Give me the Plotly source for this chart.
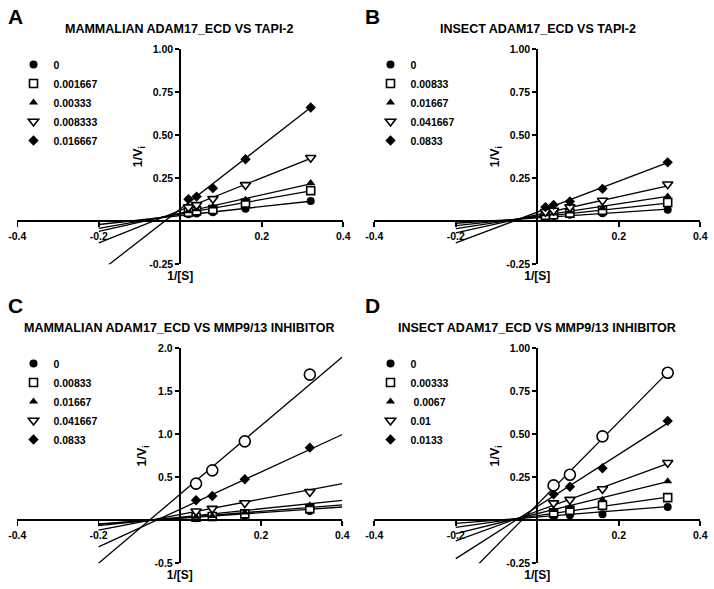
import plotly.graph_objects as go

# ---------------- DATA ----------------
# Panel A: Mammalian ADAM17_ECD vs TAPI-2
A_x = [0.02, 0.04, 0.08, 0.16, 0.32]
A_labels = ["0", "0.001667", "0.00333", "0.008333", "0.016667"]
A_y_0 = [0.040, 0.045, 0.052, 0.072, 0.118]
A_y_1 = [0.052, 0.060, 0.068, 0.105, 0.178]
A_y_2 = [0.058, 0.070, 0.085, 0.125, 0.222]
A_y_3 = [0.082, 0.095, 0.130, 0.211, 0.369]
A_y_4 = [0.128, 0.143, 0.192, 0.360, 0.660]
A_slopes = [0.26, 0.42, 0.53, 0.945, 1.84]
A_intercepts = [0.033, 0.042, 0.047, 0.063, 0.071]

# Panel B: Insect ADAM17_ECD vs TAPI-2
B_x = [0.02, 0.04, 0.08, 0.16, 0.32]
B_labels = ["0", "0.00833", "0.01667", "0.041667", "0.0833"]
B_y_0 = [0.028, 0.030, 0.037, 0.047, 0.066]
B_y_1 = [0.035, 0.038, 0.047, 0.063, 0.109]
B_y_2 = [0.040, 0.045, 0.057, 0.076, 0.143]
B_y_3 = [0.055, 0.062, 0.082, 0.120, 0.215]
B_y_4 = [0.082, 0.095, 0.115, 0.188, 0.342]
B_slopes = [0.157, 0.252, 0.36, 0.523, 0.896]
B_intercepts = [0.0197, 0.0244, 0.0296, 0.0376, 0.053]

# Panel C: Mammalian ADAM17_ECD vs MMP9/13 inhibitor (6th series unlabelled)
C_x = [0.04, 0.08, 0.16, 0.32]
C_labels = ["0", "0.00833", "0.01667", "0.041667", "0.0833", None]
C_y_0 = [0.025, 0.035, 0.060, 0.108]
C_y_1 = [0.035, 0.045, 0.075, 0.136]
C_y_2 = [0.040, 0.050, 0.090, 0.174]
C_y_3 = [0.105, 0.136, 0.201, 0.330]
C_y_4 = [0.233, 0.283, 0.477, 0.845]
C_y_5 = [0.427, 0.581, 0.918, 1.694]
C_slopes = [0.326, 0.379, 0.49, 0.9, 2.18, 4.0]
C_intercepts = [0.024, 0.028, 0.036, 0.067, 0.126, 0.3]

# Panel D: Insect ADAM17_ECD vs MMP9/13 inhibitor (6th series unlabelled)
D_x = [0.04, 0.08, 0.16, 0.32]
D_labels = ["0", "0.00333", "\u00a00.0067", "0.01", "0.0133", None]
D_y_0 = [0.020, 0.030, 0.035, 0.078]
D_y_1 = [0.043, 0.058, 0.087, 0.132]
D_y_2 = [0.060, 0.078, 0.120, 0.227]
D_y_3 = [0.100, 0.120, 0.182, 0.335]
D_y_4 = [0.151, 0.195, 0.303, 0.578]
D_y_5 = [0.203, 0.265, 0.488, 0.858]
D_slopes = [0.189, 0.338, 0.58, 0.865, 1.515, 2.4]
D_intercepts = [0.0195, 0.027, 0.039, 0.053, 0.08, 0.092]

# Fit line extents (in 1/[S])
FIT_X_START = -0.2
A_fit_end = 0.32
B_fit_end = 0.32
C_fit_end = 0.4
D_fit_end = 0.32

# Tick values / labels
X_tickvals = [-0.4, -0.2, 0.2, 0.4]
X_ticktext = ["-0.4", "-0.2", "0.2", "0.4"]
Y1_tickvals = [-0.25, 0.25, 0.5, 0.75, 1.0]
Y1_ticktext = ["-0.25", "0.25", "0.50", "0.75", "1.00"]
Y2_tickvals = [-0.5, 0.5, 1.0, 1.5, 2.0]
Y2_ticktext = ["-0.5", "0.5", "1.0", "1.5", "2.0"]
X_TITLE = "1/[S]"
Y_TITLE = "1/V<sub>i</sub>"

# ---------------- STYLE / LAYOUT ----------------
FONT = "Liberation Sans, Arial, sans-serif"
SYMBOLS = ["circle", "square", "triangle-up", "triangle-down", "diamond", "circle"]
FILLS = ["black", "white", "black", "white", "black", "white"]
SIZES = [8, 8, 8, 9, 8, 11]

W, H = 714, 589


def fx(px):   # page pixel x -> paper
    return px / W


def fy(py):   # page pixel y -> paper
    return 1 - py / H


panels = [
    dict(letter="A", title="MAMMALIAN ADAM17_ECD VS TAPI-2", x=A_x,
         ys=[A_y_0, A_y_1, A_y_2, A_y_3, A_y_4], labels=A_labels,
         slopes=A_slopes, ints=A_intercepts, fit_end=A_fit_end,
         yrange=[-0.25, 1.0], ytv=Y1_tickvals, ytt=Y1_ticktext,
         xpx=(17.3, 343.3), ypx=(49, 264.3), letter_px=(15.3, 16),
         title_px=(179, 29.3), leg_px=(13.5, 50), ystand=3),
    dict(letter="B", title="INSECT ADAM17_ECD VS TAPI-2", x=B_x,
         ys=[B_y_0, B_y_1, B_y_2, B_y_3, B_y_4], labels=B_labels,
         slopes=B_slopes, ints=B_intercepts, fit_end=B_fit_end,
         yrange=[-0.25, 1.0], ytv=Y1_tickvals, ytt=Y1_ticktext,
         xpx=(374.3, 700.3), ypx=(49, 264.3), letter_px=(372, 16),
         title_px=(538, 29.3), leg_px=(370.5, 50), ystand=3),
    dict(letter="C", title="MAMMALIAN ADAM17_ECD VS MMP9/13 INHIBITOR", x=C_x,
         ys=[C_y_0, C_y_1, C_y_2, C_y_3, C_y_4, C_y_5], labels=C_labels,
         slopes=C_slopes, ints=C_intercepts, fit_end=C_fit_end,
         yrange=[-0.5, 2.0], ytv=Y2_tickvals, ytt=Y2_ticktext,
         xpx=(17.3, 342.3), ypx=(348.3, 563.3), letter_px=(15.5, 305),
         title_px=(179, 328.3), leg_px=(13.5, 349), ystand=4),
    dict(letter="D", title="INSECT ADAM17_ECD VS MMP9/13 INHIBITOR", x=D_x,
         ys=[D_y_0, D_y_1, D_y_2, D_y_3, D_y_4, D_y_5], labels=D_labels,
         slopes=D_slopes, ints=D_intercepts, fit_end=D_fit_end,
         yrange=[-0.25, 1.0], ytv=Y1_tickvals, ytt=Y1_ticktext,
         xpx=(374.3, 700.3), ypx=(348.3, 563.3), letter_px=(372.5, 305),
         title_px=(537, 328.3), leg_px=(370.5, 349), ystand=3),
]

fig = go.Figure()
annotations = []
layout = dict(width=W, height=H, margin=dict(l=0, r=0, t=0, b=0, autoexpand=False),
              paper_bgcolor="white", plot_bgcolor="white", showlegend=True,
              font=dict(family=FONT, color="black"))

for i, p in enumerate(panels):
    n = "" if i == 0 else str(i + 1)
    xa, ya = "x" + n, "y" + n
    leg = "legend" + n
    # fitted lines
    for s, b in zip(p["slopes"], p["ints"]):
        xs = [FIT_X_START, p["fit_end"]]
        fig.add_trace(go.Scatter(x=xs, y=[s * v + b for v in xs], mode="lines",
                                 line=dict(color="black", width=1.3),
                                 xaxis=xa, yaxis=ya, showlegend=False, hoverinfo="skip"))
    # data markers
    for k, (yv, lab) in enumerate(zip(p["ys"], p["labels"])):
        fig.add_trace(go.Scatter(
            x=p["x"], y=yv, mode="markers", name=lab if lab else "",
            showlegend=lab is not None, legend=leg,
            marker=dict(symbol=SYMBOLS[k], color=FILLS[k], size=SIZES[k],
                        line=dict(color="black", width=1.6 if FILLS[k] == "white" else 0)),
            xaxis=xa, yaxis=ya))

    x0, x1 = fx(p["xpx"][0]), fx(p["xpx"][1])
    y0, y1 = fy(p["ypx"][1]), fy(p["ypx"][0])
    yr = p["yrange"]
    xpos = y0 + (0 - yr[0]) / (yr[1] - yr[0]) * (y1 - y0)
    ypos = (x0 + x1) / 2
    tickfont = dict(family=FONT, size=10.5, color="black", weight="bold")
    layout["xaxis" + n] = dict(domain=[x0, x1], range=[-0.4, 0.4], anchor="free", position=xpos,
                               showline=True, linecolor="black", linewidth=2,
                               ticks="outside", ticklen=5, tickwidth=1.6, tickcolor="black",
                               tickvals=X_tickvals, ticktext=X_ticktext, tickfont=tickfont,
                               title=dict(text=X_TITLE, standoff=30,
                                          font=dict(family=FONT, size=12, weight="bold")),
                               showgrid=False, zeroline=False, fixedrange=True)
    layout["yaxis" + n] = dict(domain=[y0, y1], range=yr, anchor="free", position=ypos,
                               showline=True, linecolor="black", linewidth=2,
                               ticks="outside", ticklen=4, tickwidth=1.6, tickcolor="black",
                               tickvals=p["ytv"], ticktext=p["ytt"], tickfont=tickfont,
                               title=dict(text=Y_TITLE, standoff=p["ystand"],
                                          font=dict(family=FONT, size=12.5, weight="bold")),
                               showgrid=False, zeroline=False, fixedrange=True)
    layout[leg] = dict(x=fx(p["leg_px"][0]), y=fy(p["leg_px"][1]), xanchor="left", yanchor="top",
                       bgcolor="rgba(0,0,0,0)", tracegroupgap=0,
                       font=dict(family=FONT, size=10.5, color="black", weight="bold"))

    annotations.append(dict(text=p["letter"], xref="paper", yref="paper",
                            x=fx(p["letter_px"][0]), y=fy(p["letter_px"][1]),
                            xanchor="center", yanchor="middle", showarrow=False,
                            font=dict(family=FONT, size=21, weight="bold")))
    annotations.append(dict(text=p["title"], xref="paper", yref="paper",
                            x=fx(p["title_px"][0]), y=fy(p["title_px"][1]),
                            xanchor="center", yanchor="middle", showarrow=False,
                            font=dict(family=FONT, size=12.5, weight="bold")))

layout["annotations"] = annotations
fig.update_layout(**layout)
fig.write_html("out.html", config={"displayModeBar": False, "staticPlot": True},
               post_script="document.body.style.margin='0px';document.body.style.overflow='hidden';")
